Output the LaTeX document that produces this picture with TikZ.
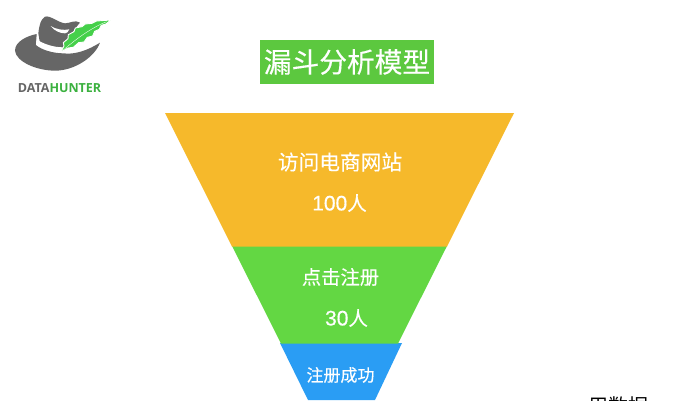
\documentclass[tikz,border=0pt]{standalone}
\usepackage{fontspec}
\setmainfont[FakeBold=0.3]{Noto Sans CJK SC}
\newfontfamily\logofont{Open Sans}
\newfontfamily\numfont[FakeBold=0.5]{Liberation Sans}
\newfontfamily\plainfont{Noto Sans CJK SC}
\definecolor{funnelyellow}{HTML}{F6B92B}
\definecolor{funnelgreen}{HTML}{63D743}
\definecolor{funnelblue}{HTML}{2A9DF4}
\definecolor{titlegreen}{HTML}{5CC83F}
\definecolor{hatgray}{HTML}{666666}
\definecolor{feather}{HTML}{45D04A}
\tikzset{
  x=1pt,y=-1pt,
  lab/.style={text=white,inner sep=0pt,anchor=center},
  seg/.style={draw=none}
}
\begin{document}
\begin{tikzpicture}
\path[use as bounding box] (0,0) rectangle (683,400);
\clip (0,0) rectangle (683,400);
\fill[white] (0,0) rectangle (683,400);
% logo
\begin{scope}[x=0.3333pt,y=-0.3333pt]
\fill[hatgray] (115,100) .. controls (118,75) and (122,58) .. (135,50) .. controls (150,45) and (175,68) .. (195,70) .. controls (210,70) and (225,58) .. (240,68) .. controls (225,85) and (205,110) .. (195,150) -- (120,130) -- cycle;
\fill[hatgray] (110,102) .. controls (80,108) and (45,125) .. (45,152) .. controls (48,185) and (110,212) .. (165,212) .. controls (225,212) and (285,170) .. (300,128) .. controls (265,150) and (225,165) .. (190,160) .. controls (160,160) and (125,150) .. (108,135) -- cycle;
\fill[white] (108,134) .. controls (130,150) and (165,158) .. (192,152) -- (190,142) .. controls (160,142) and (130,132) .. (110,118) -- cycle;
\fill[white] (152,78) .. controls (168,88) and (190,92) .. (208,88) .. controls (205,96) and (200,100) .. (195,100) .. controls (180,100) and (162,92) .. (152,78) -- cycle;
\fill[feather,draw=white,line width=0.9pt] (183,156) -- (192,138) -- (190,128) -- (204,116) -- (205,104) -- (222,95) -- (226,84) -- (246,80) -- (256,72) -- (276,70) -- (290,63) -- (332,60) -- (318,72) -- (304,76) -- (298,88) -- (284,94) -- (278,108) -- (262,112) -- (252,126) -- (236,128) -- (220,142) -- (204,144) -- cycle;
\draw[white,line width=0.35pt] (190,150) .. controls (225,120) and (270,85) .. (320,65);
\end{scope}
\node[inner sep=0pt,anchor=center,font=\logofont\bfseries\fontsize{12.5}{12.5}\selectfont] (logo) at (59.5,88) {\textcolor{hatgray}{DATA}\textcolor{feather!85!black}{HUNTER}};
% title
\node[fill=titlegreen,text=white,minimum width=174,minimum height=44,inner sep=0pt,font=\fontsize{27.7}{27.7}\selectfont] (title) at (347,62) {漏斗分析模型};
% funnel
\path[fill=funnelblue,seg] (280,343) -- (402,343) -- (375,400) -- (308,400) -- cycle;
\path[fill=funnelgreen,seg] (232,246) -- (447,246) -- (398,343.5) -- (281,343.5) -- cycle;
\path[fill=funnelyellow,seg] (165,113) -- (514,113) -- (447,246.5) -- (232,246.5) -- cycle;
\node[lab,font=\fontsize{20.7}{20.7}\selectfont] (a1) at (340,162) {访问电商网站};
\node[lab,font=\fontsize{19.5}{19.5}\selectfont] (a2) at (339.5,203) {{\numfont\fontsize{21}{21}\selectfont 100}人};
\node[lab,font=\fontsize{19.3}{19.3}\selectfont] (b1) at (340.5,277) {点击注册};
\node[lab,font=\fontsize{19.5}{19.5}\selectfont] (b2) at (346.5,318) {{\numfont\fontsize{21}{21}\selectfont 30}人};
\node[lab,font=\fontsize{17}{17}\selectfont] (c1) at (340.5,375) {注册成功};
\node[inner sep=0pt,text=black,font=\plainfont\fontsize{20}{20}\selectfont,anchor=center] (d) at (618,406) {用数据};
\end{tikzpicture}
\end{document}
